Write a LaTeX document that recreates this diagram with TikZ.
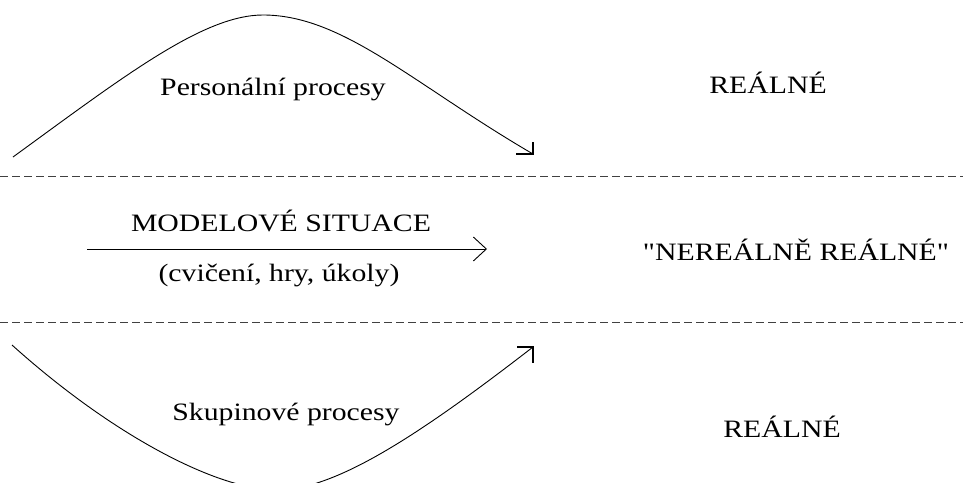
\documentclass[tikz,border=0pt]{standalone}
\usepackage{fontspec}
\setmainfont{Liberation Serif}[FakeStretch=1.19, Ligatures=TeXOff]
\usetikzlibrary{arrows.meta}
\begin{document}
\begin{tikzpicture}[x=1pt,y=-1pt,
  txt/.style={font=\fontsize{25}{29}\selectfont, anchor=base, inner sep=0pt},
  divider/.style={draw=black!75, line width=1.1pt, dash pattern=on 8pt off 4pt},
  flow/.style={line width=0.9pt},
  barb/.style={line width=1.1pt}]
\useasboundingbox (0,0) rectangle (963,482);
\clip (0,0) rectangle (963,482);

% level dividers
\coordinate (d1l) at (0,176.5);
\coordinate (d1r) at (963,176.5);
\coordinate (d2l) at (0,322.5);
\coordinate (d2r) at (963,322.5);
\draw[divider] (d1l) -- (d1r);
\draw[divider] (d2l) -- (d2r);

% personal processes: arch over the upper band
\coordinate (p0) at (13,157);
\coordinate (ptop) at (263,15);
\coordinate (p1) at (533,154);
\draw[flow] (p0) .. controls (123,77) and (203,15) .. (ptop)
            .. controls (343,15) and (413,84) .. (p1);
\draw[barb] (p1) ++(-17,0) -- (p1) -- ++(0,-12);

% group processes: dip through the lower band
\coordinate (q0) at (12,345);
\coordinate (qlow) at (277,490);
\coordinate (q1) at (533,347);
\draw[flow] (q0) .. controls (112,435) and (217,490) .. (qlow)
            .. controls (337,490) and (423,432) .. (q1);
\draw[barb] (q1) ++(-16,0) -- (q1) -- ++(0,16);

% model situations
\coordinate (m0) at (87,249);
\coordinate (m1) at (487,249);
\draw[flow,-{Straight Barb[length=13pt,width=24pt]}] (m0) -- (m1);

% texts
\node[txt] (pers) at (273,95) {Personální procesy};
\node[txt] (real1) at (768,93) {REÁLNÉ};
\node[txt] (model) at (281,231) {MODELOVÉ SITUACE};
\node[txt] (cvic) at (279,281) {(cvičení, hry, úkoly)};
\node[txt] (nereal) at (796,260) {"NEREÁLNĚ REÁLNÉ"};
\node[txt] (skup) at (286,420) {Skupinové procesy};
\node[txt] (real2) at (782,437) {REÁLNÉ};
\end{tikzpicture}
\end{document}
